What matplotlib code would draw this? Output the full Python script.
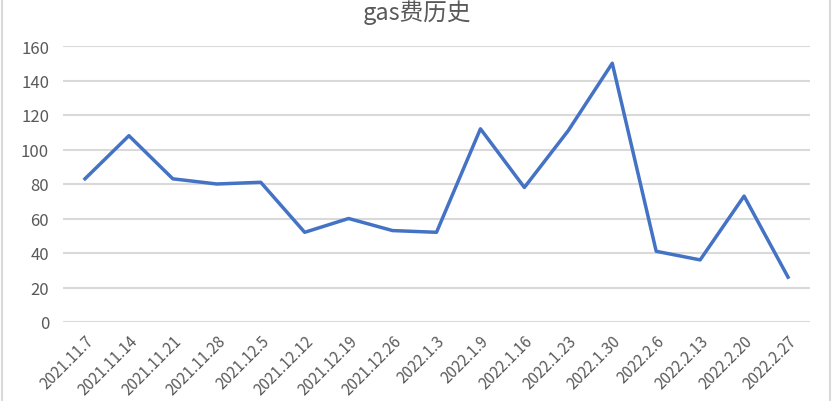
import matplotlib
matplotlib.use("Agg")
import matplotlib.pyplot as plt
from matplotlib.patches import Rectangle

plt.rcParams['font.family'] = ['Noto Sans CJK SC', 'DejaVu Sans']

dates = ["2021.11.7", "2021.11.14", "2021.11.21", "2021.11.28", "2021.12.5",
         "2021.12.12", "2021.12.19", "2021.12.26", "2022.1.3", "2022.1.9",
         "2022.1.16", "2022.1.23", "2022.1.30", "2022.2.6", "2022.2.13",
         "2022.2.20", "2022.2.27"]
gas = [83, 108, 83, 80, 81, 52, 60, 53, 52, 112, 78, 111, 150, 41, 36, 73, 26]

W, H = 834, 402
fig = plt.figure(figsize=(W / 100, H / 100), dpi=100)
ax = fig.add_axes([63 / W, 1 - 323 / H, (810 - 63) / W, (323 - 47) / H])

x = list(range(len(dates)))
ax.plot(x, gas, color="#4472C4", linewidth=2.5, solid_joinstyle="round")

ax.set_xlim(-0.5, len(dates) - 0.5)
ax.set_ylim(0, 160)
ax.set_yticks(range(0, 161, 20))
ax.set_xticks(x)
ax.set_xticklabels(dates, rotation=45, ha="right", rotation_mode="anchor")
ax.tick_params(axis="both", length=0, labelcolor="#595959")
ax.tick_params(axis="x", pad=7, labelsize=11)
ax.tick_params(axis="y", pad=10, labelsize=12)
ax.grid(axis="y", color="#D9D9D9", linewidth=1.5)
ax.set_axisbelow(True)
for s in ax.spines.values():
    s.set_visible(False)

fig.text(0.5, 1 - 20 / H, "gas费历史", ha="center", va="baseline",
         fontsize=17, color="#595959")

# light frame round the chart
fig.patches.append(Rectangle((2 / W, -0.01), (828 / W), 1.02, transform=fig.transFigure,
                             fill=False, edgecolor="#D9D9D9", linewidth=1.5))

fig.savefig("out.png", dpi=100)
